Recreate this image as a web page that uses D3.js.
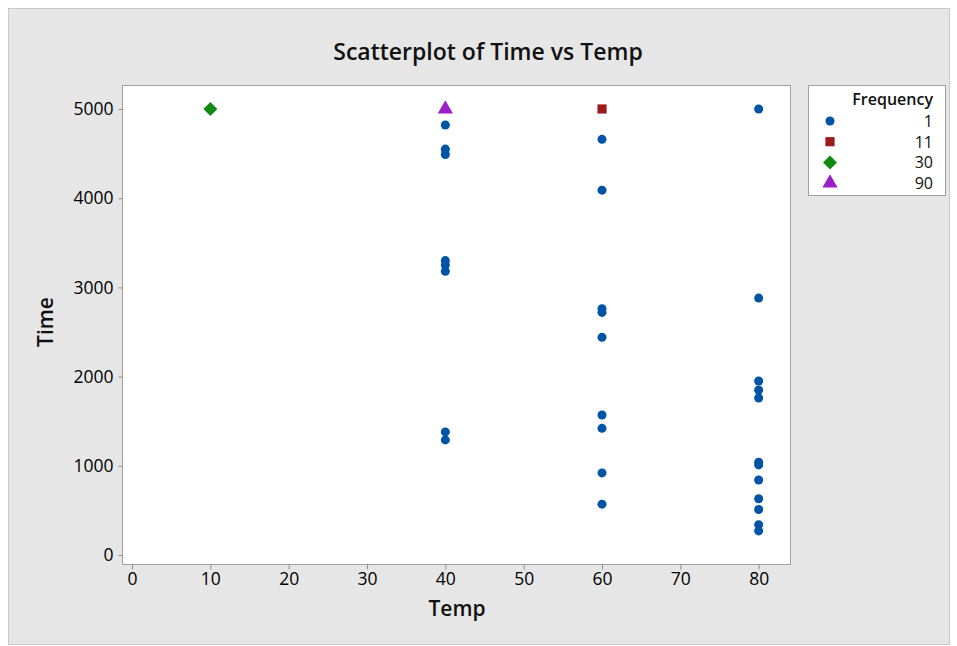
<!DOCTYPE html>
<html lang="en">
<head>
    <meta charset="utf-8">
    <title>Scatterplot of Time vs Temp</title>
    <script src="https://d3js.org/d3.v7.min.js"></script>
    <style>
        body { margin: 0; background: white; }
        text { font-family: "Open Sans", "Noto Sans", sans-serif; }
    </style>
</head>
<body>
<div id="chart"></div>
<script>
    // data
    var temps = [10, 40, 40, 40, 40, 40, 40, 40, 40, 40,
        60, 60, 60, 60, 60, 60, 60, 60, 60, 60,
        80, 80, 80, 80, 80, 80, 80, 80, 80, 80, 80, 80];
    var times = [5000, 5000, 4820, 4550, 4490, 3300, 3250, 3180, 1380, 1290,
        5000, 4660, 4090, 2760, 2720, 2440, 1570, 1420, 920, 570,
        5000, 2880, 1950, 1850, 1760, 1040, 1010, 840, 630, 510, 340, 270];
    var freqs = [30, 90, 1, 1, 1, 1, 1, 1, 1, 1,
        11, 1, 1, 1, 1, 1, 1, 1, 1, 1,
        1, 1, 1, 1, 1, 1, 1, 1, 1, 1, 1, 1];
    var freqLevels = [1, 11, 30, 90];
    var xTicks = [0, 10, 20, 30, 40, 50, 60, 70, 80];
    var yTicks = [0, 1000, 2000, 3000, 4000, 5000];

    var points = temps.map(function(t, i) {
        return { temp: t, time: times[i], freq: freqs[i] };
    });

    var W = 957, H = 646;
    var plot = { left: 122, right: 790, top: 85, bottom: 564 };

    var svg = d3.select("#chart").append("svg")
        .attr("width", W).attr("height", H);

    // grey panel
    svg.append("rect")
        .attr("x", 8.5).attr("y", 8.5)
        .attr("width", 941).attr("height", 636)
        .attr("fill", "#e6e6e6").attr("stroke", "#c8c8c8");

    var x = d3.scaleLinear().domain([-1.28, 84.0]).range([plot.left, plot.right]);
    var y = d3.scaleLinear().domain([-101, 5269]).range([plot.bottom, plot.top]);

    // plot area
    svg.append("rect")
        .attr("x", plot.left + 0.5).attr("y", plot.top + 0.5)
        .attr("width", plot.right - plot.left).attr("height", plot.bottom - plot.top)
        .attr("fill", "white").attr("stroke", "#a0a0a0");

    var xAxis = svg.append("g")
        .attr("transform", "translate(0," + (plot.bottom + 0.5) + ")")
        .call(d3.axisBottom(x).tickValues(xTicks).tickFormat(d3.format("d")).tickSize(5).tickPadding(3));
    var yAxis = svg.append("g")
        .attr("transform", "translate(" + (plot.left + 0.5) + ",0)")
        .call(d3.axisLeft(y).tickValues(yTicks).tickFormat(d3.format("d")).tickSize(4).tickPadding(5));

    [xAxis, yAxis].forEach(function(g) {
        g.select(".domain").remove();
        g.selectAll(".tick line").attr("stroke", "#909090");
        g.selectAll(".tick text")
            .attr("fill", "#000")
            .style("font-size", "17.5px")
            .style("font-family", "'Open Sans', sans-serif");
    });

    var color = d3.scaleOrdinal().domain(freqLevels)
        .range(["#0054a6", "#9b1b1b", "#138a13", "#9a1fc8"]);
    var shape = d3.scaleOrdinal().domain(freqLevels)
        .range([d3.symbolCircle, d3.symbolSquare, d3.symbolDiamond2, d3.symbolTriangle]);
    var size = d3.scaleOrdinal().domain(freqLevels).range([64, 84, 125, 100]);

    svg.append("g").selectAll("path")
        .data(points)
        .join("path")
        .attr("transform", function(d) { return "translate(" + x(d.temp) + "," + y(d.time) + ")"; })
        .attr("d", function(d) { return d3.symbol().type(shape(d.freq)).size(size(d.freq))(); })
        .attr("fill", function(d) { return color(d.freq); });

    // title and axis labels
    svg.append("text")
        .attr("x", 488).attr("y", 60)
        .attr("text-anchor", "middle")
        .style("font-size", "23px").style("font-weight", "600")
        .attr("fill", "#111")
        .text("Scatterplot of Time vs Temp");

    svg.append("text")
        .attr("x", 457).attr("y", 616)
        .attr("text-anchor", "middle")
        .style("font-size", "21px").style("font-weight", "600")
        .attr("fill", "#111")
        .text("Temp");

    svg.append("text")
        .attr("transform", "translate(53,322) rotate(-90)")
        .attr("text-anchor", "middle")
        .style("font-size", "21px").style("font-weight", "600")
        .attr("fill", "#111")
        .text("Time");

    // legend
    var legend = svg.append("g");
    legend.append("rect")
        .attr("x", 808.5).attr("y", 85.5)
        .attr("width", 137).attr("height", 110)
        .attr("fill", "white").attr("stroke", "#a0a0a0");
    legend.append("text")
        .attr("x", 933).attr("y", 105)
        .attr("text-anchor", "end")
        .style("font-size", "16px").style("font-weight", "600")
        .attr("fill", "#111")
        .text("Frequency");

    var rows = legend.selectAll("g.row")
        .data(freqLevels)
        .join("g")
        .attr("class", "row")
        .attr("transform", function(d, i) { return "translate(0," + (121 + i * 20.7) + ")"; });
    rows.append("path")
        .attr("transform", "translate(830,0)")
        .attr("d", function(d) { return d3.symbol().type(shape(d)).size(size(d))(); })
        .attr("fill", function(d) { return color(d); });
    rows.append("text")
        .attr("x", 933).attr("y", 6)
        .attr("text-anchor", "end")
        .style("font-size", "16px")
        .attr("fill", "#111")
        .text(function(d) { return d; });
</script>
</body>
</html>
